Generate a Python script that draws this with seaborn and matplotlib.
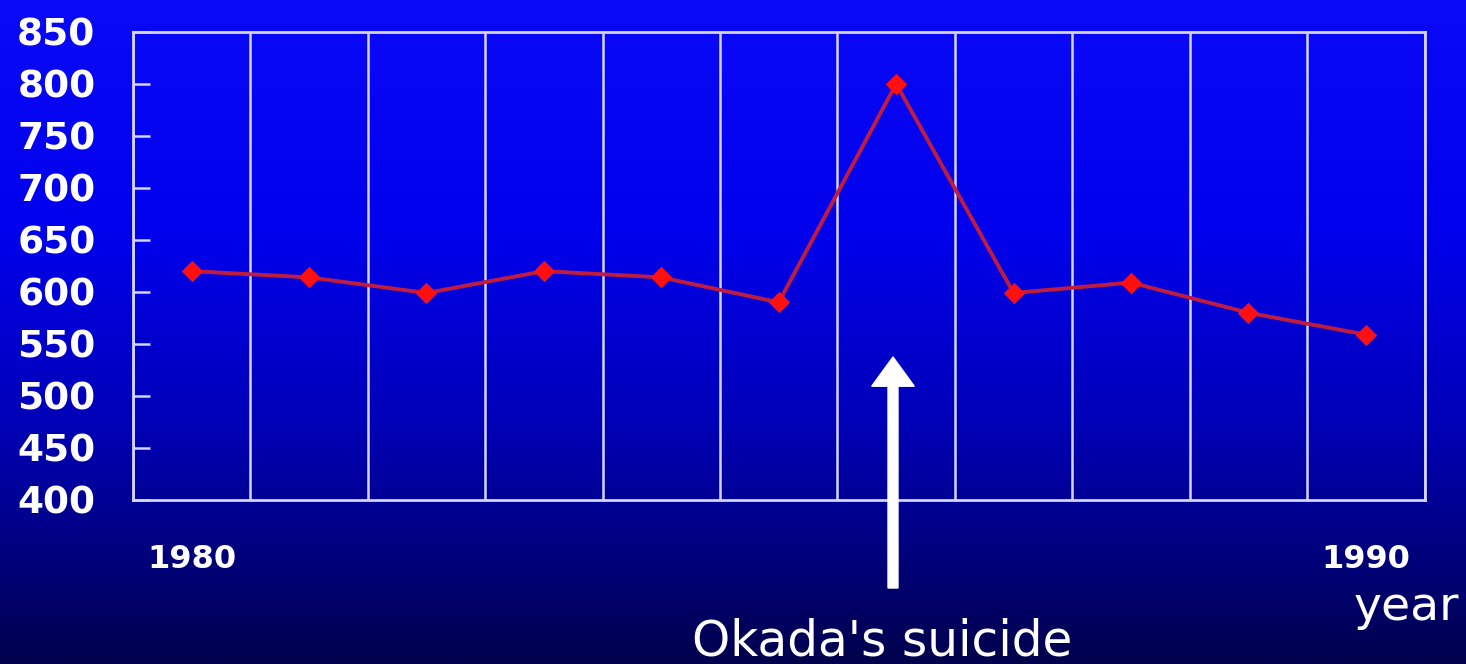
import numpy as np
import pandas as pd
import matplotlib.pyplot as plt
import seaborn as sns
from matplotlib.colors import LinearSegmentedColormap
from matplotlib.ticker import MultipleLocator
from matplotlib.patches import FancyArrow

years = [1980, 1981, 1982, 1983, 1984, 1985, 1986, 1987, 1988, 1989, 1990]
values = [620, 614, 599, 620, 614, 590, 800, 599, 609, 580, 559]
y_ticks = [400, 450, 500, 550, 600, 650, 700, 750, 800, 850]
x_labels = ['1980', '1990']

sns.set_style('white')
plt.rcParams['font.family'] = ['DejaVu Sans']

fig = plt.figure(figsize=(14.66, 6.64), dpi=100)

# gradient background, bright blue at top, navy at bottom
bg = fig.add_axes([0, 0, 1, 1], zorder=0)
cmap = LinearSegmentedColormap.from_list(
    'bg', [(0.0, '#00004c'), (0.35, '#0000b4'), (0.65, '#0000ec'), (1.0, '#0a0af6')])
grad = np.linspace(0, 1, 256).reshape(-1, 1)
bg.imshow(grad, aspect='auto', cmap=cmap, origin='lower', extent=[0, 1, 0, 1])
bg.axis('off')

ax = fig.add_axes([0.0907, 0.247, 0.881, 0.705], zorder=1)
ax.patch.set_alpha(0)

df = pd.DataFrame({'year': years, 'value': values})
sns.lineplot(data=df, x='year', y='value', ax=ax, color='#c01c40', linewidth=2.8,
             marker='D', markersize=10, markerfacecolor='#ff1010',
             markeredgecolor='#ff1010', zorder=3)

line_col = '#d4d4ff'
ax.set_xlim(years[0] - 0.5, years[-1] + 0.5)
ax.set_ylim(y_ticks[0], y_ticks[-1])
ax.xaxis.set_minor_locator(MultipleLocator(1, offset=0.5))
ax.grid(which='minor', axis='x', color=line_col, linewidth=1.8)
ax.grid(which='major', visible=False)
ax.set_xticks([years[0], years[-1]], x_labels)
ax.tick_params(axis='x', which='both', length=0, pad=32, labelsize=23,
               labelcolor='white')
for lbl in ax.get_xticklabels():
    lbl.set_fontweight('bold')

ax.set_yticks(y_ticks)
ax.tick_params(axis='y', which='major', left=True, direction='in', length=12,
               width=1.8, color=line_col, pad=27, labelsize=27,
               labelcolor='white')
for lbl in ax.get_yticklabels():
    lbl.set_fontweight('bold')

for sp in ax.spines.values():
    sp.set_color(line_col)
    sp.set_linewidth(2)
    sp.set_visible(True)

ax.set_xlabel('')
ax.set_ylabel('')

# arrow to the peak
fig.patches.append(FancyArrow(
    893 / 1466, 1 - 588 / 664, 0, (588 - 357) / 664, width=0.0068,
    head_width=0.029, head_length=0.044, length_includes_head=True,
    color='white', transform=fig.transFigure, zorder=5))

fig.text(882 / 1466, 1 - 642 / 664, "Okada's suicide", color='white',
         fontsize=35, ha='center', va='center')
fig.text(1406 / 1466, 1 - 608 / 664, 'year', color='white',
         fontsize=34, ha='center', va='center')

fig.savefig('out.png', dpi=100)
